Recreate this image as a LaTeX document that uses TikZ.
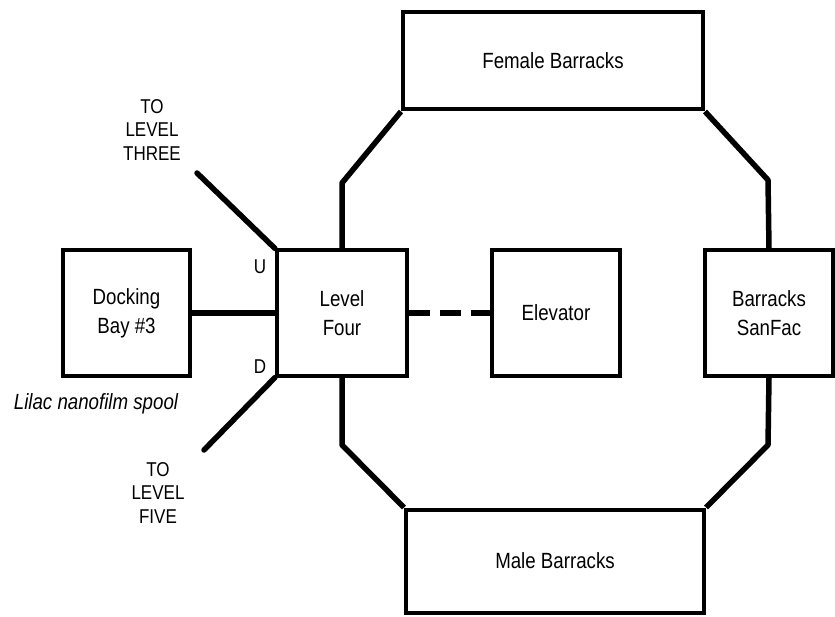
\documentclass[tikz,border=0pt]{standalone}
\usepackage{fontspec}
\setmainfont{Liberation Sans}[FakeStretch=0.85]
\begin{document}
\begin{tikzpicture}[x=1pt,y=-1pt,
  box/.style={draw, line width=4pt, align=center, inner sep=0pt,
    font=\fontsize{22}{29}\selectfont},
  conn/.style={line width=5.5pt},
  lbl/.style={align=center, inner sep=0pt, font=\fontsize{20}{23.5}\selectfont},
  thickdash/.style={line width=6pt, dash pattern=on 21pt off 10pt}]
\useasboundingbox (0,0) rectangle (835,617);
\node[box, minimum width=127pt, minimum height=125pt] (dock) at (126.5,313) {Docking\\Bay \#3};
\node[box, minimum width=130pt, minimum height=125pt] (level) at (342,313) {Level\\Four};
\node[box, minimum width=128pt, minimum height=125pt] (elev) at (556,313) {Elevator};
\node[box, minimum width=128pt, minimum height=125pt] (sanfac) at (769,313) {Barracks\\SanFac};
\node[box, minimum width=300pt, minimum height=97pt] (female) at (553,61) {Female Barracks};
\node[box, minimum width=298pt, minimum height=103pt] (male) at (555,561) {Male Barracks};
\coordinate (up) at (197,173);
\coordinate (dn) at (204,450);
\coordinate (tl) at (342,183);
\coordinate (tr) at (768,180);
\coordinate (bl) at (342,445);
\coordinate (br) at (768,445);
\draw[conn] (dock.east) -- (level.west);
\draw[thickdash] (level.east) -- (elev.west);
\draw[conn, line cap=round] (level.north west) -- (up);
\draw[conn, line cap=round] (level.south west) -- (dn);
\draw[conn, line join=round] (level.north) -- (tl) -- (female.south west);
\draw[conn, line join=round] (female.south east) -- (tr) -- (sanfac.north);
\draw[conn, line join=round] (level.south) -- (bl) -- (male.north west);
\draw[conn, line join=round] (male.north east) -- (br) -- (sanfac.south);
\node[lbl] (three) at (152,130) {TO\\LEVEL\\THREE};
\node[lbl] (five) at (158,493) {TO\\LEVEL\\FIVE};
\node[lbl] (u) at (260,267) {U};
\node[lbl] (d) at (260,367) {D};
\node[lbl, font=\fontsize{22}{26}\selectfont\itshape] (spool) at (96,404) {Lilac nanofilm spool};
\end{tikzpicture}
\end{document}
